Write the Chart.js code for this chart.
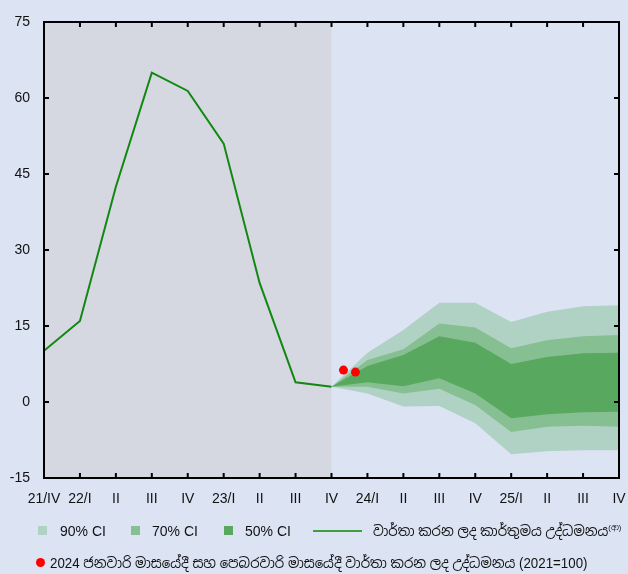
<!DOCTYPE html>
<html><head><meta charset="utf-8">
<script src="https://cdn.jsdelivr.net/npm/chart.js@4.4.1/dist/chart.umd.min.js"></script>
<style>
html,body{margin:0;padding:0;background:#dce4f4;}
#wrap{position:relative;width:628px;height:574px;overflow:hidden;}
canvas{position:absolute;left:0;top:0;}
.lg{position:absolute;font-family:"Liberation Sans",Arial,"Noto Sans Sinhala","Iskoola Pota",sans-serif;font-size:14px;color:#111;white-space:nowrap;line-height:16px;}
.si{transform:scaleX(0.95);transform-origin:0 50%;}
.sq{position:absolute;width:9px;height:9px;}
.ln{position:absolute;height:2px;background:#3f9f3f;}
.dot{position:absolute;width:9px;height:9px;border-radius:50%;background:#ff0000;}
sup{font-size:8px;vertical-align:6px;line-height:0;}
</style>
</head><body>
<div id="wrap">
<canvas id="c" width="628" height="574"></canvas>
<div class="sq" style="left:38px;top:526px;background:#b0d2c4"></div>
<div class="lg" style="left:60px;top:523px">90% CI</div>
<div class="sq" style="left:131px;top:526px;background:#86bf91"></div>
<div class="lg" style="left:152px;top:523px">70% CI</div>
<div class="sq" style="left:224px;top:526px;background:#59a85f"></div>
<div class="lg" style="left:245px;top:523px">50% CI</div>
<div class="ln" style="left:313px;top:530px;width:49px"></div>
<div class="lg si" style="left:373px;top:523px">වාර්තා කරන ලද කාර්තුමය උද්ධමනය<sup>(ආ)</sup></div>
<div class="dot" style="left:36px;top:558px"></div>
<div class="lg si" style="left:50px;top:555px">2024 ජනවාරි මාසයේදී සහ පෙබරවාරි මාසයේදී වාර්තා කරන ලද උද්ධමනය (2021=100)</div>
</div>
<script>
// ---- data ----
const quarterLabels = ['21/IV','22/I','II','III','IV','23/I','II','III','IV','24/I','II','III','IV','25/I','II','III','IV'];
const yTicks = [-15, 0, 15, 30, 45, 60, 75];
const actualInflation = [10.1, 16.0, 42.5, 65.0, 61.4, 51.0, 23.5, 3.9, 3.0];
const fanStartIndex = 8; // 23/IV
const upper90 = [3.0, 9.7, 14.2, 19.6, 19.6, 15.8, 17.8, 18.9, 19.1];
const upper70 = [3.0, 8.3, 10.4, 15.5, 14.7, 10.6, 12.2, 13.0, 13.2];
const upper50 = [3.0, 7.1, 9.3, 13.0, 11.7, 7.5, 8.9, 9.6, 9.7];
const lower50 = [3.0, 3.9, 3.1, 4.7, 1.7, -3.2, -2.4, -2.0, -1.9];
const lower70 = [3.0, 3.0, 1.7, 2.6, -0.6, -5.9, -4.9, -4.7, -4.9];
const lower90 = [3.0, 1.7, -0.9, -0.8, -4.2, -10.3, -9.7, -9.5, -9.5];
const monthlyMonth = [1, 2]; // January, February 2024
const monthlyValue = [6.3, 5.9];

const c90 = '#b0d2c4', c70 = '#86bf91', c50 = '#59a85f';
const histEndIndex = 8;

const pts = arr => arr.map((v, i) => ({x: i, y: v}));
const fanPts = arr => arr.map((v, i) => ({x: fanStartIndex + i, y: v}));
const monthPts = monthlyMonth.map((m, i) => ({x: fanStartIndex + m / 3, y: monthlyValue[i]}));

const band = (data, color, fill, order) => ({
  type: 'line', data: fanPts(data), borderWidth: 0, pointRadius: 0,
  backgroundColor: color, borderColor: color, fill: fill, order: order, tension: 0
});

const shadePlugin = {
  id: 'shade',
  beforeDatasetsDraw(chart) {
    const {ctx, chartArea: {left, top, bottom}, scales: {x}} = chart;
    ctx.save();
    ctx.fillStyle = '#d5d8e1';
    ctx.fillRect(left, top, x.getPixelForValue(histEndIndex) - left, bottom - top);
    ctx.restore();
  }
};
const framePlugin = {
  id: 'frame',
  afterDatasetsDraw(chart) {
    const {ctx, chartArea: {left, right, top, bottom}, scales: {x, y}} = chart;
    ctx.save();
    ctx.strokeStyle = '#000';
    ctx.lineWidth = 2;
    ctx.strokeRect(left, top, right - left, bottom - top);
    ctx.beginPath();
    for (let i = 1; i < quarterLabels.length - 1; i++) {
      const px = x.getPixelForValue(i);
      ctx.moveTo(px, bottom); ctx.lineTo(px, bottom - 5);
      ctx.moveTo(px, top); ctx.lineTo(px, top + 5);
    }
    yTicks.slice(1, -1).forEach(v => {
      const py = y.getPixelForValue(v);
      ctx.moveTo(left, py); ctx.lineTo(left + 5, py);
      ctx.moveTo(right, py); ctx.lineTo(right - 5, py);
    });
    ctx.stroke();
    ctx.restore();
  }
};

const font = {family: '"Liberation Sans", Arial, sans-serif', size: 14};

new Chart(document.getElementById('c'), {
  type: 'line',
  data: {
    datasets: [
      {type: 'line', data: pts(actualInflation), borderColor: '#118811', borderWidth: 2, pointRadius: 0, fill: false, order: 1, tension: 0},
      {type: 'line', data: monthPts, showLine: false, pointRadius: 4.5, pointBackgroundColor: '#ff0000', pointBorderWidth: 0, backgroundColor: '#ff0000', borderColor: '#ff0000', fill: false, order: 0},
      band(upper50, c50, '+1', 2),
      band(lower50, c50, false, 2),
      band(upper70, c70, '+1', 3),
      band(lower70, c70, false, 3),
      band(upper90, c90, '+1', 4),
      band(lower90, c90, false, 4)
    ]
  },
  options: {
    responsive: false,
    animation: false,
    layout: {padding: {left: 0, right: 9, top: 22, bottom: 66}},
    plugins: {legend: {display: false}, tooltip: {enabled: false}},
    scales: {
      x: {
        type: 'linear', min: 0, max: quarterLabels.length - 1,
        afterBuildTicks: s => { s.ticks = quarterLabels.map((_, i) => ({value: i})); },
        afterFit: s => { s.height = 30; s.paddingLeft = 0; s.paddingRight = 0; },
        ticks: {autoSkip: false, maxRotation: 0, padding: 13, color: '#111', font: font,
          callback: v => quarterLabels[v] ?? ''},
        grid: {display: false, drawTicks: false},
        border: {display: false}
      },
      y: {
        min: yTicks[0], max: yTicks[yTicks.length - 1],
        afterBuildTicks: s => { s.ticks = yTicks.map(v => ({value: v})); },
        afterFit: s => { s.width = 44; s.paddingTop = 0; s.paddingBottom = 0; },
        ticks: {padding: 14, color: '#111', font: font},
        grid: {display: false, drawTicks: false},
        border: {display: false}
      }
    }
  },
  plugins: [shadePlugin, framePlugin]
});
</script>
</body></html>
